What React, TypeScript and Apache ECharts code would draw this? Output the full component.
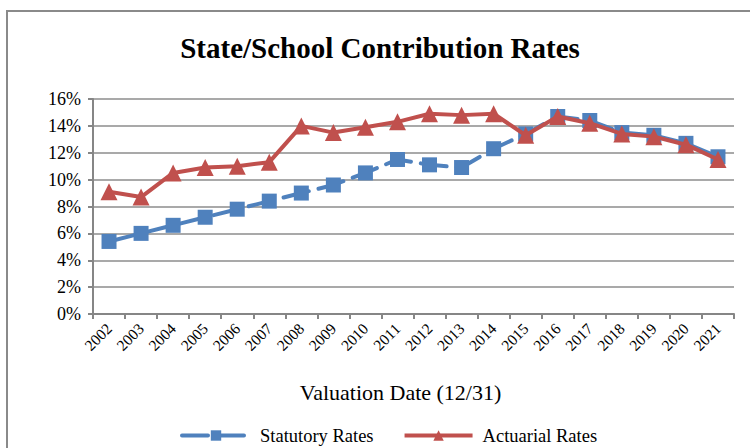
import React, { useEffect, useRef } from "react";
import * as echarts from "echarts";

const years = ["2002","2003","2004","2005","2006","2007","2008","2009","2010","2011","2012","2013","2014","2015","2016","2017","2018","2019","2020","2021"];
const statutoryRates = [5.4, 6.0, 6.6, 7.2, 7.8, 8.4, 9.0, 9.6, 10.5, 11.5, 11.1, 10.9, 12.3, 13.4, 14.7, 14.4, 13.5, 13.3, 12.7, 11.7];
const actuarialRates = [9.1, 8.7, 10.5, 10.9, 11.0, 11.3, 14.0, 13.5, 13.9, 14.3, 14.9, 14.8, 14.9, 13.3, 14.7, 14.2, 13.4, 13.2, 12.6, 11.5];
const yTicks = { min: 0, max: 16, interval: 2 };

const FONT = "'Liberation Serif', 'Times New Roman', serif";
const BLUE = "#4F81BD";
const RED = "#C0504D";

export default function App() {
  const ref = useRef<HTMLDivElement>(null);
  useEffect(() => {
    if (!ref.current) return;
    const chart = echarts.init(ref.current, undefined, { renderer: "svg" });
    chart.setOption({
      animation: false,
      backgroundColor: "#ffffff",
      textStyle: { fontFamily: FONT },
      graphic: [
        {
          type: "rect",
          shape: { x: 7, y: 11, width: 760, height: 450 },
          style: { fill: "none", stroke: "#8a8a8a", lineWidth: 2 },
          silent: true,
        },
        {
          type: "text",
          x: 380,
          y: 48,
          style: {
            text: "State/School Contribution Rates",
            font: `bold 29px ${FONT}`,
            fill: "#000",
            textAlign: "center",
            textVerticalAlign: "middle",
          },
        },
      ],
      grid: { left: 93, right: 16, top: 99, bottom: 134 },
      legend: {
        left: 175,
        top: 421,
        itemWidth: 68,
        itemHeight: 13,
        itemGap: 29,
        lineStyle: { width: 4 },
        textStyle: { fontFamily: FONT, fontSize: 18.5, color: "#000", padding: [0, 0, 0, 5] },
        data: ["Statutory Rates", "Actuarial Rates"],
      },
      xAxis: {
        type: "category",
        data: years,
        boundaryGap: true,
        name: "Valuation Date (12/31)",
        nameLocation: "middle",
        nameGap: 67,
        nameTextStyle: { fontFamily: FONT, fontSize: 22, color: "#000", padding: [0, 26, 0, 0] },
        axisLine: { lineStyle: { color: "#868686", width: 2 } },
        axisTick: { show: true, length: 5, alignWithLabel: false, lineStyle: { color: "#868686", width: 2 } },
        axisLabel: { rotate: 45, fontFamily: FONT, fontSize: 15.5, color: "#000", margin: 12, interval: 0 },
        splitLine: { show: false },
      },
      yAxis: {
        type: "value",
        min: yTicks.min,
        max: yTicks.max,
        interval: yTicks.interval,
        axisLine: { show: true, lineStyle: { color: "#868686", width: 2 } },
        axisTick: { show: true, length: 5, lineStyle: { color: "#868686", width: 2 } },
        axisLabel: { formatter: "{value}%", fontFamily: FONT, fontSize: 18, color: "#000", margin: 12 },
        splitLine: { show: true, lineStyle: { color: "#8c8c8c", width: 1.5 } },
      },
      series: [
        {
          name: "Statutory Rates",
          type: "line",
          data: statutoryRates,
          symbol: "rect",
          symbolSize: 15,
          itemStyle: { color: BLUE },
          lineStyle: { color: BLUE, width: 4, type: [26, 10], cap: "round" },
          z: 2,
        },
        {
          name: "Actuarial Rates",
          type: "line",
          data: actuarialRates,
          symbol: "triangle",
          symbolSize: 17,
          itemStyle: { color: RED },
          lineStyle: { color: RED, width: 4 },
          z: 3,
        },
      ],
    });
    return () => chart.dispose();
  }, []);
  return (
    <div
      ref={ref}
      style={{ position: "absolute", left: 0, top: 0, width: 750, height: 448 }}
    />
  );
}
